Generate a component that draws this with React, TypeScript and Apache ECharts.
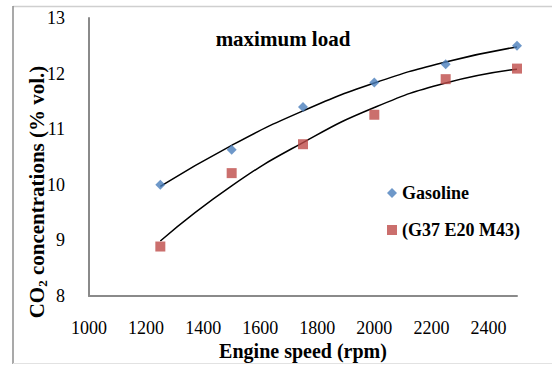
import React, { useEffect, useRef } from "react";
import * as echarts from "echarts";

const speeds = [1250, 1500, 1750, 2000, 2250, 2500];
const gasoline = [10.0, 10.63, 11.4, 11.84, 12.17, 12.5];
const blend = [8.89, 10.21, 10.73, 11.26, 11.9, 12.09];
// trendline values at each speed
const gasolineTrend = [9.97, 10.71, 11.33, 11.83, 12.21, 12.48];
const blendTrend = [8.99, 9.98, 10.76, 11.39, 11.83, 12.08];
const seriesNames = ["Gasoline", "(G37 E20 M43)"];
const chartTitle = "maximum load";

const FONT = "Liberation Serif";

export default function App() {
  const ref = useRef<HTMLDivElement>(null);
  useEffect(() => {
    const chart = echarts.init(ref.current!, null, { renderer: "svg" });
    const pair = (xs: number[], ys: number[]) => xs.map((x, i) => [x, ys[i]]);
    chart.setOption({
      animation: false,
      backgroundColor: "#ffffff",
      textStyle: { fontFamily: FONT },
      grid: { left: 89, top: 18, right: 35, bottom: 69, containLabel: false, outerBoundsMode: "none" },
      legend: {
        orient: "vertical",
        left: 387,
        top: 184,
        padding: 0,
        itemWidth: 10,
        itemHeight: 10,
        itemGap: 19,
        itemTextGap: 1,
        data: seriesNames,
        textStyle: { fontFamily: FONT, fontWeight: "bold", fontSize: 18, color: "#000" },
      },
      graphic: [
        { type: "line", shape: { x1: 13, y1: 6.5, x2: 552, y2: 6.5 }, style: { stroke: "#cfcfcf", lineWidth: 1.5 } },
        { type: "line", shape: { x1: 13, y1: 6, x2: 13, y2: 364 }, style: { stroke: "#8c8c8c", lineWidth: 1.5 } },
        { type: "line", shape: { x1: 13, y1: 363.5, x2: 552, y2: 363.5 }, style: { stroke: "#e2e2e2", lineWidth: 1 } },
        {
          type: "text",
          x: 283,
          y: 39,
          style: {
            text: chartTitle,
            align: "center",
            verticalAlign: "middle",
            font: `bold 21px ${FONT}`,
            fill: "#000",
          },
        },
      ],
      xAxis: {
        type: "value",
        min: 1000,
        max: 2500,
        interval: 200,
        name: "Engine speed (rpm)",
        nameLocation: "middle",
        nameGap: 46,
        nameMoveOverlap: false,
        nameTextStyle: { fontFamily: FONT, fontWeight: "bold", fontSize: 20, lineHeight: 18, color: "#000" },
        axisLine: { show: true, lineStyle: { color: "#8a8a8a", width: 2 } },
        axisTick: { show: false },
        splitLine: { show: false },
        axisLabel: {
          margin: 25,
          fontFamily: FONT,
          fontSize: 18,
          lineHeight: 14,
          color: "#000",
          showMaxLabel: false,
          formatter: (v: number) => String(v),
        },
      },
      yAxis: {
        type: "value",
        min: 8,
        max: 13,
        interval: 1,
        name: "{a|CO}{b|2}{a| concentrations (% vol.)}",
        nameLocation: "middle",
        nameRotate: 90,
        nameGap: 40,
        nameMoveOverlap: false,
        nameTextStyle: {
          fontFamily: FONT,
          fontWeight: "bold",
          fontSize: 21,
          color: "#000",
          padding: [0, 70, 0, 0],
          rich: {
            a: { fontFamily: FONT, fontWeight: "bold", fontSize: 21, color: "#000", lineHeight: 24 },
            b: { fontFamily: FONT, fontWeight: "bold", fontSize: 13, color: "#000", lineHeight: 24, verticalAlign: "bottom", padding: [9, 0, 0, 0] },
          },
        },
        axisLine: { show: true, lineStyle: { color: "#8a8a8a", width: 2 } },
        axisTick: { show: false },
        splitLine: { show: false },
        axisLabel: { margin: 24, fontFamily: FONT, fontSize: 18, color: "#000" },
      },
      series: [
        {
          name: "gasolineTrend",
          type: "line",
          smooth: true,
          symbol: "none",
          data: pair(speeds, gasolineTrend),
          lineStyle: { color: "#000", width: 1.5 },
          z: 1,
        },
        {
          name: "blendTrend",
          type: "line",
          smooth: true,
          symbol: "none",
          data: pair(speeds, blendTrend),
          lineStyle: { color: "#000", width: 1.5 },
          z: 1,
        },
        {
          name: seriesNames[0],
          type: "scatter",
          symbol: "diamond",
          symbolSize: 10,
          itemStyle: { color: "#4a7ebb" },
          data: pair(speeds, gasoline),
          z: 3,
        },
        {
          name: seriesNames[1],
          type: "scatter",
          symbol: "rect",
          symbolSize: 10,
          itemStyle: { color: "#be4b48" },
          data: pair(speeds, blend),
          z: 3,
        },
      ],
    });
    return () => chart.dispose();
  }, []);
  return (
    <div
      ref={ref}
      style={{ position: "absolute", left: 0, top: 0, width: 552, height: 365 }}
    />
  );
}
